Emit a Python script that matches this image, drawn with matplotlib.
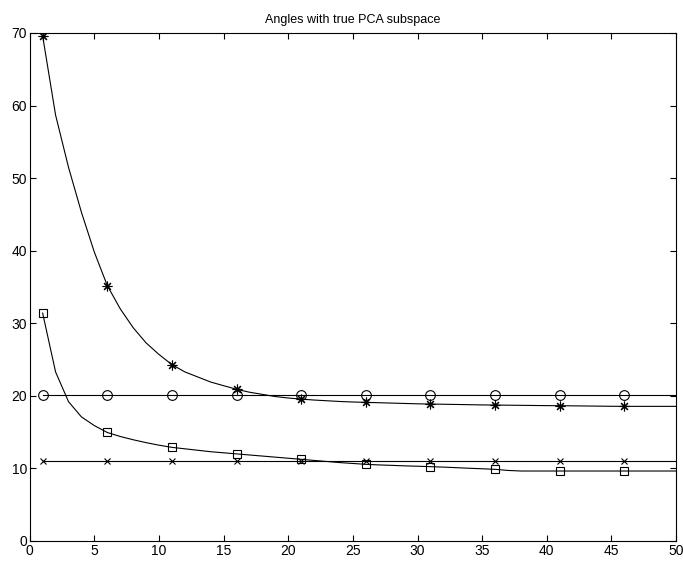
import numpy as np
import matplotlib
matplotlib.use('Agg')
import matplotlib.pyplot as plt

plt.rcParams['font.family'] = ['Liberation Sans', 'DejaVu Sans']

# iteration index 1..50
iters = list(range(1, 51))

# angle curves (degrees)
star_vals = [69.6, 58.7, 51.5, 45.3, 39.8, 35.2, 32.0, 29.4, 27.3, 25.7,
             24.3, 23.3, 22.6, 21.9, 21.4, 20.9, 20.5, 20.2, 19.9, 19.7,
             19.55, 19.42, 19.32, 19.22, 19.15, 19.1, 19.05, 19.0, 18.95, 18.9,
             18.87, 18.84, 18.81, 18.78, 18.75, 18.73, 18.71, 18.69, 18.67, 18.65,
             18.64, 18.62, 18.6, 18.58, 18.56, 18.55, 18.55, 18.55, 18.55, 18.55]

square_vals = [31.4, 23.3, 19.2, 17.1, 15.9, 14.95, 14.4, 13.95, 13.55, 13.2,
               12.9, 12.7, 12.5, 12.3, 12.15, 12.0, 11.85, 11.7, 11.55, 11.4,
               11.25, 11.1, 10.95, 10.8, 10.68, 10.56, 10.48, 10.42, 10.35, 10.3,
               10.24, 10.18, 10.1, 10.02, 9.95, 9.87, 9.72, 9.64, 9.64, 9.64,
               9.64, 9.64, 9.64, 9.64, 9.64, 9.64, 9.64, 9.64, 9.64, 9.64]

circle_vals = [20.15] * 50
cross_vals = [11.06] * 50

fig = plt.figure(figsize=(6.83, 5.61), dpi=100)
ax = fig.add_axes([0.0435, 0.0357, 0.9463, 0.9055])

mev = slice(0, None, 5)
kw = dict(color='black', linewidth=0.8, markevery=mev,
          markerfacecolor='none', markeredgecolor='black', markeredgewidth=0.8)

ax.plot(iters, star_vals, marker=(8, 2, 0), markersize=7, **kw)
ax.plot(iters, circle_vals, marker='o', markersize=7, **kw)
ax.plot(iters, square_vals, marker='s', markersize=6, **kw)
ax.plot(iters, cross_vals, marker='x', markersize=5, **kw)

ax.set_xlim(0, 50)
ax.set_ylim(0, 70)
ax.set_xticks(np.arange(0, 51, 5))
ax.set_yticks(np.arange(0, 71, 10))
ax.tick_params(direction='in', length=4, width=0.8, top=True, right=True,
               labelsize=10, pad=2)
for s in ax.spines.values():
    s.set_linewidth(0.8)

ax.set_title('Angles with true PCA subspace', fontsize=9, pad=7)

fig.savefig('out.png', dpi=100)
